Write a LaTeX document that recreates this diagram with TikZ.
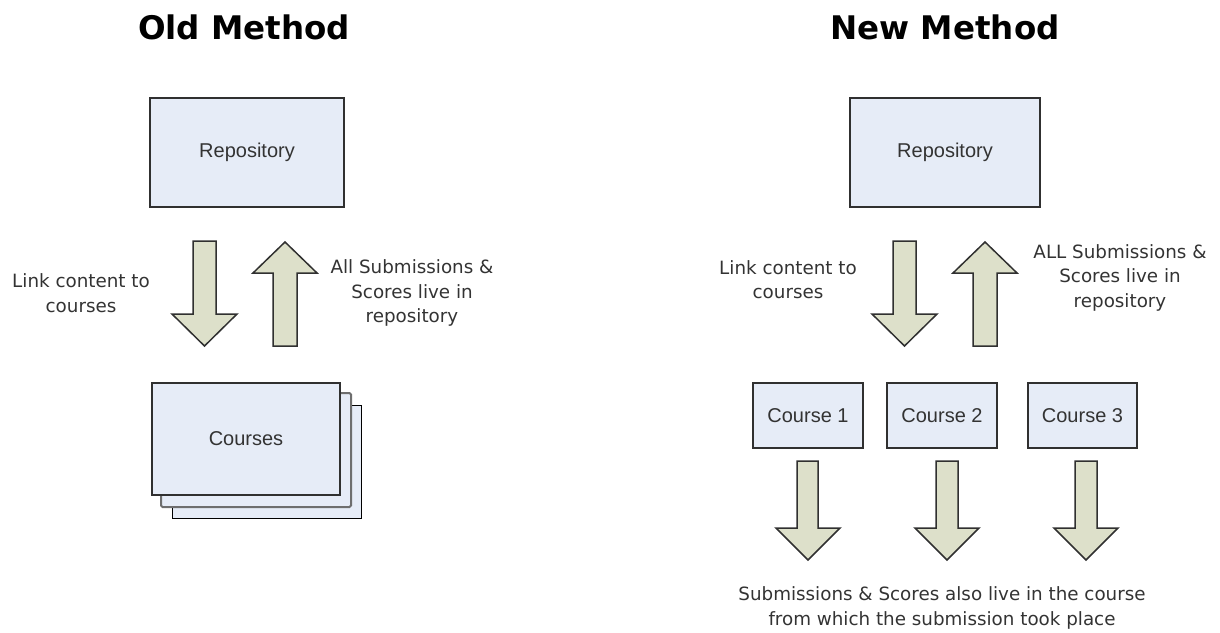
\documentclass[tikz,border=0pt]{standalone}
\usepackage{fontspec}
\setmainfont{DejaVu Sans}
\newfontfamily\boxfont{Liberation Sans}
\definecolor{boxblue}{HTML}{E6ECF7}
\definecolor{arrowgreen}{HTML}{DDE0CA}
\definecolor{edgegray}{HTML}{303030}
\definecolor{textgray}{HTML}{333333}
\tikzset{
  titletext/.style={font=\fontsize{32.5}{38}\selectfont\bfseries, text=black},
  notetext/.style={font=\fontsize{18.3}{24.5}\selectfont, text=textgray, align=center},
  stagebox/.style={draw=edgegray, line width=1.5pt, fill=boxblue, font=\boxfont\fontsize{20}{24}\selectfont, text=textgray},
  blockarrow/.style={draw=edgegray, line width=1.5pt, fill=arrowgreen, line join=miter}
}

\begin{document}
\begin{tikzpicture}[x=1pt,y=-1pt]
            \useasboundingbox (0,0) rectangle (1220,632);
            % old method
            \node[titletext] (oldtitle) at (244,27) {Old Method};
            \node[stagebox, minimum width=194pt, minimum height=109pt] (oldrepo) at (247,152.5) {Repository};
            \draw[blockarrow] (193,241) -- (216,241) -- (216,314) -- (237,314) -- (204.5,346) -- (172,314) -- (193,314) -- cycle;
            \draw[blockarrow] (285,242) -- (317,273) -- (297,273) -- (297,346) -- (273,346) -- (273,273) -- (253,273) -- cycle;
            \node[notetext] (oldlink) at (81,293) {Link content to\\courses};
            \node[notetext] (oldlive) at (412,293) {All Submissions \&\\Scores live in\\repository};
            \draw[draw=black, line width=1pt, fill=boxblue] (172,405) rectangle (361,518);
            \draw[draw=edgegray!70, line width=2pt, fill=boxblue, rounded corners=1.5pt] (161,393) rectangle (351,507);
            \node[stagebox, minimum width=188pt, minimum height=112pt] (courses) at (246,439) {Courses};
            % new method
            \node[titletext] (newtitle) at (945,27) {New Method};
            \node[stagebox, minimum width=190pt, minimum height=109pt] (newrepo) at (945,152.5) {Repository};
            \draw[blockarrow] (893,241) -- (916,241) -- (916,314) -- (937,314) -- (904.5,346) -- (872,314) -- (893,314) -- cycle;
            \draw[blockarrow] (985,242) -- (1017,273) -- (997,273) -- (997,346) -- (973,346) -- (973,273) -- (953,273) -- cycle;
            \node[notetext] (newlink) at (788,279.5) {Link content to\\courses};
            \node[notetext] (newlive) at (1120,277.5) {ALL Submissions \&\\Scores live in\\repository};
            \node[stagebox, minimum width=110pt, minimum height=65pt] (course1) at (808,415.5) {Course 1};
            \node[stagebox, minimum width=110pt, minimum height=65pt] (course2) at (942,415.5) {Course 2};
            \node[stagebox, minimum width=109pt, minimum height=65pt] (course3) at (1082.5,415.5) {Course 3};
            \draw[blockarrow] (797,461) -- (818,461) -- (818,528) -- (840,528) -- (808,560) -- (776,528) -- (797,528) -- cycle;
            \draw[blockarrow] (936,461) -- (958,461) -- (958,528) -- (979,528) -- (947,560) -- (915,528) -- (936,528) -- cycle;
            \draw[blockarrow] (1075,461) -- (1097,461) -- (1097,528) -- (1118,528) -- (1086,560) -- (1054,528) -- (1075,528) -- cycle;
            \node[notetext] (newscores) at (942,608) {Submissions \& Scores also live in the course\\from which the submission took place};
        \end{tikzpicture}
\end{document}
